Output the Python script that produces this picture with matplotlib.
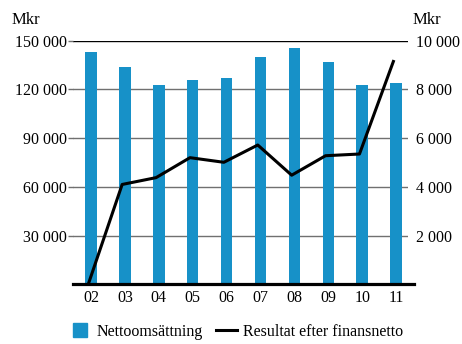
import matplotlib.pyplot as plt
from matplotlib.lines import Line2D
import numpy as np

# Data
ar = ['02', '03', '04', '05', '06', '07', '08', '09', '10', '11']
nettoomsattning = [143200, 134000, 122500, 125800, 126800, 140000, 145300, 137100, 122700, 123800]
resultat = [0, 4100, 4380, 5200, 5010, 5720, 4480, 5280, 5350, 9150]

blatt = '#1791c8'
gra = '#707070'
plt.rcParams['font.family'] = ['Liberation Serif', 'DejaVu Serif']

fig = plt.figure(figsize=(4.62, 3.44), dpi=100)
ax = fig.add_axes([0.158, 0.1735, 0.725, 0.708])
x = np.arange(len(ar))

# Staplar: nettoomsättning (vänster axel)
ax.bar(x, nettoomsattning, width=0.34, color=blatt, zorder=3)
ax.set_xlim(-0.53, 9.35)
ax.set_ylim(0, 150000)
ax.set_yticks([30000, 60000, 90000, 120000, 150000])
ax.set_yticklabels(['30 000', '60 000', '90 000', '120 000', '150 000'])
ax.yaxis.grid(True, color=gra, linewidth=1.0, zorder=0)
ax.set_axisbelow(True)
ax.get_ygridlines()[-1].set_color('black')
ax.tick_params(axis='y', length=3.6, width=1.0, color=gra, pad=1, labelsize=11.5)
ax.tick_params(axis='x', length=0, pad=4, labelsize=11.5)
ax.set_xticks(x)
ax.set_xticklabels(ar)
for s in ['top', 'left', 'right', 'bottom']:
    ax.spines[s].set_visible(False)
ax.axhline(0, xmin=0, xmax=1.018, color='black', linewidth=2.3, clip_on=False, zorder=5)

# Linje: resultat efter finansnetto (höger axel)
ax2 = ax.twinx()
ax2.plot(x - 0.08, resultat, color='black', linewidth=2.2, zorder=4)
ax2.set_ylim(0, 10000)
ax2.set_yticks([2000, 4000, 6000, 8000, 10000])
ax2.set_yticklabels(['2 000', '4 000', '6 000', '8 000', '10 000'])
ax2.tick_params(axis='y', length=0, pad=6, labelsize=11.5)
for s in ['top', 'left', 'right', 'bottom']:
    ax2.spines[s].set_visible(False)

fig.text(0.026, 0.93, 'Mkr', fontsize=12)
fig.text(0.893, 0.93, 'Mkr', fontsize=12)

# Förklaring med fyrkantig symbol för staplarna
handtag = [Line2D([], [], marker='s', markersize=10, color=blatt, linestyle='none'),
           Line2D([], [], color='black', linewidth=2.2)]
fig.legend(handtag, ['Nettoomsättning', 'Resultat efter finansnetto'], loc='center',
           bbox_to_anchor=(0.512, 0.035), ncol=2, frameon=False, fontsize=11.5,
           handlelength=1.3, handletextpad=0.4, columnspacing=0.8)

fig.savefig('out.png', dpi=100)
